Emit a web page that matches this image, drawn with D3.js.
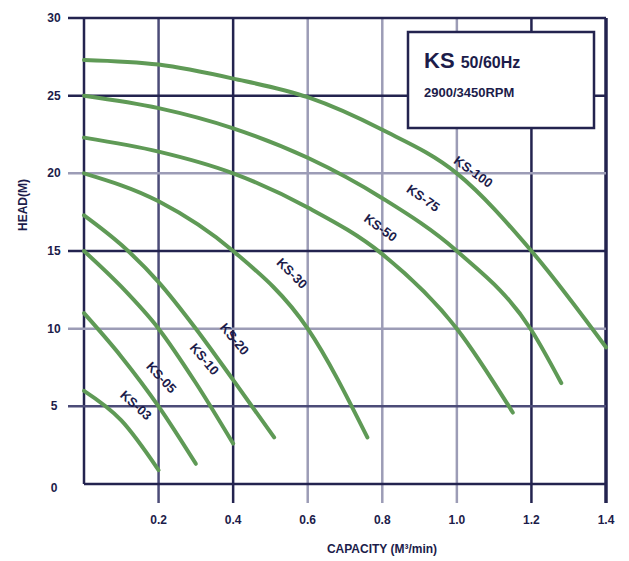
<!DOCTYPE html>
<html>
<head>
<meta charset="utf-8">
<script src="https://cdn.jsdelivr.net/npm/d3@7"></script>
<style>
  body { margin: 0; background: #fff; }
  text { font-family: "Liberation Sans Narrow", "Arial Narrow", "Liberation Sans", Arial, sans-serif; font-weight: bold; fill: #1c1c4a; }
</style>
</head>
<body>
<svg id="chart" width="629" height="561"></svg>
<script>
// pump curves, capacity (m3/min) vs head (m)
var models = ["KS-100", "KS-75", "KS-50", "KS-30", "KS-20", "KS-10", "KS-05", "KS-03"];
var ks100 = [[0, 27.3], [0.2, 27.0], [0.4, 26.1], [0.6, 24.9], [0.8, 22.8], [1.0, 20.0], [1.2, 15.0], [1.4, 8.8]];
var ks75 = [[0, 25.0], [0.2, 24.2], [0.4, 22.9], [0.6, 21.0], [0.8, 18.4], [1.0, 15.0], [1.2, 9.9], [1.28, 6.5]];
var ks50 = [[0, 22.3], [0.2, 21.4], [0.4, 20.0], [0.6, 17.8], [0.8, 14.8], [1.0, 10.0], [1.15, 4.6]];
var ks30 = [[0, 20.0], [0.2, 18.2], [0.4, 15.0], [0.6, 10.0], [0.76, 3.0]];
var ks20 = [[0, 17.3], [0.1, 15.4], [0.2, 13.0], [0.3, 10.0], [0.4, 6.7], [0.51, 3.0]];
var ks10 = [[0, 15.0], [0.1, 12.7], [0.2, 10.0], [0.3, 6.5], [0.4, 2.6]];
var ks05 = [[0, 11.0], [0.1, 8.2], [0.2, 5.0], [0.3, 1.3]];
var ks03 = [[0, 6.0], [0.1, 4.1], [0.2, 0.9]];
var curves = [ks100, ks75, ks50, ks30, ks20, ks10, ks05, ks03];

// label anchor (capacity, head) and slant for each curve label
var labelPos = [[1.035, 19.8], [0.901, 18.1], [0.786, 16.2], [0.547, 13.3], [0.392, 9.1], [0.311, 7.8], [0.196, 6.6], [0.129, 4.8]];
var labelAngle = [36, 35, 36, 45, 50, 50, 47, 42];

var xTicks = [0.2, 0.4, 0.6, 0.8, 1.0, 1.2, 1.4];
var yTicks = [0, 5, 10, 15, 20, 25, 30];
var xDark = [0, 0.4, 1.2, 1.4], xMid = [0.2];
var yDark = [0, 15, 25, 30], yMid = [5];

var svg = d3.select("#chart");
var x = d3.scaleLinear().domain([0, 1.4]).range([84, 606]);
var y = d3.scaleLinear().domain([0, 30]).range([484, 18]);

function gridColor(v, dark, mid) {
  if (dark.indexOf(v) >= 0) return "#23234f";
  if (mid.indexOf(v) >= 0) return "#4c4c78";
  return "#9c9cb6";
}

// vertical grid + ticks below axis
svg.append("g").selectAll("line").data([0].concat(xTicks)).enter().append("line")
  .attr("x1", function(d) { return x(d); }).attr("x2", function(d) { return x(d); })
  .attr("y1", y(30)).attr("y2", function(d) { return d === 0 ? y(0) : y(0) + 19; })
  .attr("stroke", function(d) { return gridColor(d, xDark, xMid); })
  .attr("stroke-width", function(d) { return d === 1.4 ? 3.5 : 2.5; });

// horizontal grid + ticks left of axis
svg.append("g").selectAll("line").data(yTicks).enter().append("line")
  .attr("x1", function(d) { return d === 0 ? x(0) : x(0) - 16; }).attr("x2", x(1.4))
  .attr("y1", function(d) { return y(d); }).attr("y2", function(d) { return y(d); })
  .attr("stroke", function(d) { return gridColor(d, yDark, yMid); })
  .attr("stroke-width", 2.5);

// tick labels
svg.append("g").selectAll("text").data(xTicks).enter().append("text")
  .attr("x", function(d) { return x(d); }).attr("y", 524)
  .attr("text-anchor", "middle").attr("font-size", 12)
  .text(function(d) { return d3.format(".1f")(d); });

svg.append("g").selectAll("text").data(yTicks).enter().append("text")
  .attr("x", 54).attr("y", function(d) { return y(d) + 4 + (d === 0 ? 4 : 0); })
  .attr("text-anchor", "middle").attr("font-size", 12)
  .text(function(d) { return d; });

// axis titles
svg.append("text").attr("x", 382).attr("y", 553).attr("text-anchor", "middle")
  .attr("font-size", 12).text("CAPACITY (M³/min)");
svg.append("text").attr("transform", "translate(27,205) rotate(-90)")
  .attr("text-anchor", "middle").attr("font-size", 12).text("HEAD(M)");

// curves
var line = d3.line()
  .x(function(d) { return x(d[0]); })
  .y(function(d) { return y(d[1]); })
  .curve(d3.curveMonotoneX);

svg.append("g").selectAll("path").data(curves).enter().append("path")
  .attr("d", line)
  .attr("fill", "none")
  .attr("stroke", "#5f9a56")
  .attr("stroke-width", 4)
  .attr("stroke-linecap", "round");

// curve labels, nudged to the upper-right side of each curve
svg.append("g").selectAll("text").data(models).enter().append("text")
  .attr("transform", function(d, i) {
    return "translate(" + x(labelPos[i][0]) + "," + y(labelPos[i][1]) + ") rotate(" + labelAngle[i] + ")";
  })
  .attr("text-anchor", "middle").attr("dy", "-0.1em")
  .attr("font-size", 13)
  .text(function(d) { return d; });

// legend box
var box = svg.append("g");
box.append("rect").attr("x", 408).attr("y", 32).attr("width", 186).attr("height", 96)
  .attr("fill", "#fff").attr("stroke", "#23234f").attr("stroke-width", 2.5);
var title = box.append("text").attr("x", 424).attr("y", 68);
title.append("tspan").attr("font-size", 22).attr("font-family", "Liberation Sans, Arial, sans-serif").text("KS ");
title.append("tspan").attr("font-size", 16).attr("font-family", "Liberation Sans, Arial, sans-serif").text("50/60Hz");
box.append("text").attr("x", 424).attr("y", 97).attr("font-size", 13)
  .attr("font-family", "Liberation Sans, Arial, sans-serif").text("2900/3450RPM");
</script>
</body>
</html>
